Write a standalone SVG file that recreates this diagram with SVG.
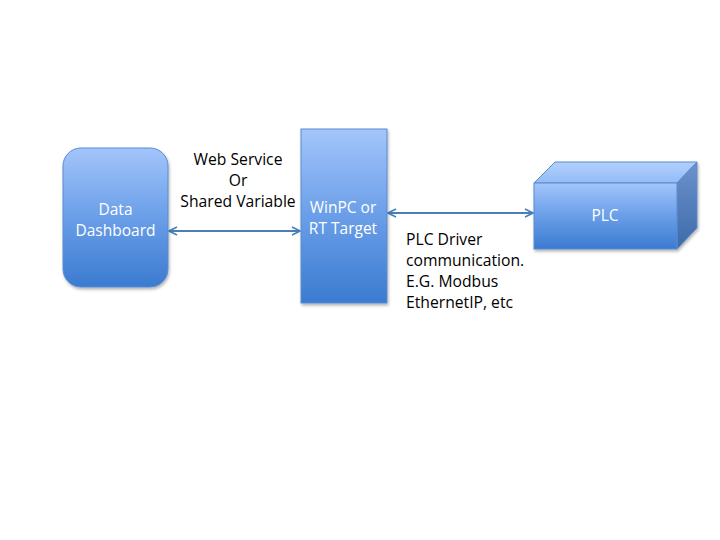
<svg xmlns="http://www.w3.org/2000/svg" width="720" height="540" viewBox="0 0 720 540">
<defs>
<linearGradient id="g" x1="0" y1="0" x2="0" y2="1">
<stop offset="0" stop-color="#a3c5fb"/>
<stop offset="0.5" stop-color="#6a9ee8"/>
<stop offset="1" stop-color="#3b7bd0"/>
</linearGradient>
<linearGradient id="gt" x1="0" y1="0" x2="0" y2="1">
<stop offset="0" stop-color="#b2d0fd"/>
<stop offset="1" stop-color="#94bcf7"/>
</linearGradient>
<linearGradient id="gs" x1="0" y1="0" x2="0" y2="1">
<stop offset="0" stop-color="#6c93cc"/>
<stop offset="1" stop-color="#3d6aaa"/>
</linearGradient>
<marker id="ah" viewBox="0 0 10 10" refX="9" refY="5" markerWidth="10" markerHeight="10" markerUnits="userSpaceOnUse" orient="auto-start-reverse">
<path d="M1,1 L9,5 L1,9" fill="none" stroke="#4a7ebb" stroke-width="1.6"/>
</marker>
<filter id="sh" x="-10%" y="-10%" width="130%" height="130%">
<feDropShadow dx="1" dy="2" stdDeviation="1.5" flood-color="#000" flood-opacity="0.3"/>
</filter>
</defs>
<style>
.n{stroke:#5b8bd0;stroke-width:1;fill:url(#g);filter:url(#sh)}
.w{font-family:"Open Sans","Liberation Sans",sans-serif;font-size:15.5px;fill:#ffffff;text-anchor:middle}
.b{font-family:"Open Sans","Liberation Sans",sans-serif;font-size:15.7px;fill:#000000}
.c{stroke:#4a7ebb;stroke-width:2;fill:none;marker-start:url(#ah);marker-end:url(#ah)}
</style>
<g id="connectors">
<line class="c" x1="169" y1="231" x2="300" y2="231"/>
<line class="c" x1="388" y1="213" x2="533" y2="213"/>
</g>
<g id="dashboard">
<rect class="n" x="63" y="148" width="105" height="139" rx="18"/>
<text class="w" x="115.5" y="215">Data</text>
<text class="w" x="115.5" y="236">Dashboard</text>
</g>
<g id="winpc">
<rect class="n" x="301" y="129" width="86" height="174"/>
<text class="w" x="343" y="213">WinPC or</text>
<text class="w" x="343" y="234">RT Target</text>
</g>
<g id="plc">
<g filter="url(#sh)">
<polygon points="534,183 555,162 697,162 677,183" fill="url(#gt)" stroke="#5b8bd0"/>
<polygon points="677,183 697,162 697,228 677,249" fill="url(#gs)" stroke="#5b8bd0"/>
<rect x="534" y="183" width="143" height="66" fill="url(#g)" stroke="#5b8bd0"/>
</g>
<text class="w" x="605" y="221">PLC</text>
</g>
<g id="labels">
<text class="b" x="238" y="165" text-anchor="middle">Web Service</text>
<text class="b" x="238" y="186" text-anchor="middle">Or</text>
<text class="b" x="238" y="207" text-anchor="middle">Shared Variable</text>
<text class="b" x="406" y="245">PLC Driver</text>
<text class="b" x="406" y="266">communication.</text>
<text class="b" x="406" y="287">E.G. Modbus</text>
<text class="b" x="406" y="308">EthernetIP, etc</text>
</g>
</svg>
